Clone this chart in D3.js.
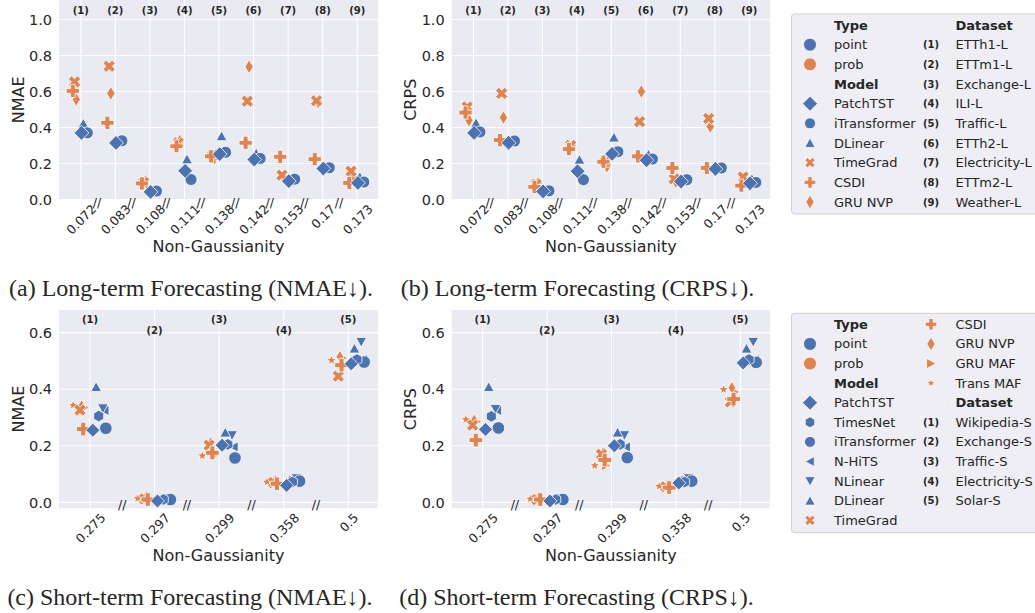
<!DOCTYPE html>
<html><head><meta charset="utf-8">
<script src="https://cdn.jsdelivr.net/npm/d3@7"></script>
<style>
body{margin:0;background:#fff}
svg{display:block}
text{font-family:"DejaVu Sans",sans-serif;fill:#262626}
</style>
</head><body>
<svg id="c" width="1035" height="613"></svg>
<script>
// ---------------- DATA ----------------
const catsLong = ["0.072","0.083","0.108","0.111","0.138","0.142","0.153","0.17","0.173"];
const idsLong = ["(1)","(2)","(3)","(4)","(5)","(6)","(7)","(8)","(9)"];
const namesLong = ["ETTh1-L","ETTm1-L","Exchange-L","ILI-L","Traffic-L","ETTh2-L","Electricity-L","ETTm2-L","Weather-L"];
const catsShort = ["0.275","0.297","0.299","0.358","0.5"];
const idsShort = ["(1)","(2)","(3)","(4)","(5)"];
const namesShort = ["Wikipedia-S","Exchange-S","Traffic-S","Electricity-S","Solar-S"];
const ticksLong = [0.0,0.2,0.4,0.6,0.8,1.0];
const ticksShort = [0.0,0.2,0.4,0.6];

const modelsLong = ["PatchTST","iTransformer","DLinear","TimeGrad","CSDI","GRU NVP"];
const modelsShort = ["PatchTST","TimesNet","iTransformer","N-HiTS","NLinear","DLinear","TimeGrad","CSDI","GRU NVP","GRU MAF","Trans MAF"];

const nmaeLong = {
  "PatchTST":     [0.370,0.314,0.042,0.159,0.252,0.222,0.102,0.172,0.092],
  "iTransformer": [0.370,0.326,0.047,0.111,0.262,0.228,0.113,0.176,0.097],
  "DLinear":      [0.422,0.330,0.050,0.224,0.352,0.257,0.115,0.180,0.125],
  "TimeGrad":     [0.653,0.740,0.095,0.315,0.246,0.546,0.135,0.548,0.157],
  "CSDI":         [0.603,0.426,0.089,0.296,0.240,0.315,0.237,0.224,0.092],
  "GRU NVP":      [0.556,0.589,0.100,0.325,0.230,0.737,0.125,0.540,0.130]
};
const crpsLong = {
  "PatchTST":     [0.370,0.315,0.045,0.157,0.253,0.218,0.100,0.170,0.090],
  "iTransformer": [0.375,0.325,0.048,0.110,0.265,0.225,0.110,0.175,0.095],
  "DLinear":      [0.425,0.330,0.052,0.222,0.345,0.250,0.115,0.178,0.115],
  "TimeGrad":     [0.514,0.589,0.085,0.300,0.210,0.432,0.115,0.450,0.125],
  "CSDI":         [0.483,0.330,0.070,0.280,0.210,0.240,0.175,0.175,0.077],
  "GRU NVP":      [0.440,0.455,0.090,0.295,0.185,0.600,0.100,0.405,0.110]
};
const nmaeShort = {
  "PatchTST":     [0.255,0.005,0.202,0.060,0.490],
  "TimesNet":     [0.305,0.010,0.205,0.072,0.505],
  "iTransformer": [0.262,0.010,0.157,0.075,0.496],
  "N-HiTS":       [0.325,0.010,0.196,0.075,0.505],
  "NLinear":      [0.332,0.015,0.237,0.085,0.567],
  "DLinear":      [0.408,0.012,0.247,0.080,0.544],
  "TimeGrad":     [0.326,0.012,0.202,0.070,0.446],
  "CSDI":         [0.259,0.010,0.175,0.066,0.485],
  "GRU NVP":      [0.340,0.020,0.210,0.078,0.515],
  "GRU MAF":      [0.335,0.012,0.165,0.068,0.510],
  "Trans MAF":    [0.343,0.014,0.165,0.072,0.502]
};
const crpsShort = {
  "PatchTST":     [0.258,0.005,0.200,0.068,0.493],
  "TimesNet":     [0.304,0.010,0.205,0.072,0.505],
  "iTransformer": [0.263,0.010,0.158,0.075,0.495],
  "N-HiTS":       [0.325,0.010,0.196,0.075,0.505],
  "NLinear":      [0.330,0.015,0.237,0.085,0.567],
  "DLinear":      [0.408,0.012,0.247,0.080,0.544],
  "TimeGrad":     [0.273,0.010,0.170,0.055,0.355],
  "CSDI":         [0.220,0.010,0.150,0.052,0.365],
  "GRU NVP":      [0.290,0.018,0.175,0.060,0.405],
  "GRU MAF":      [0.285,0.010,0.130,0.050,0.390],
  "Trans MAF":    [0.293,0.012,0.130,0.057,0.399]
};

// ---------------- STYLE ----------------
const BLUE = "#4c72b0", ORANGE = "#dd8452";
const styleLong = {
  "PatchTST":     {c:BLUE,   m:"D", s:7.4, off:0.02},
  "iTransformer": {c:BLUE,   m:"o", s:6.0, off:0.19},
  "DLinear":      {c:BLUE,   m:"^", s:5.4, off:0.075},
  "TimeGrad":     {c:ORANGE, m:"X", s:6.2, off:-0.18},
  "CSDI":         {c:ORANGE, m:"P", s:6.6, off:-0.23},
  "GRU NVP":      {c:ORANGE, m:"d", s:7.0, off:-0.13}
};
const orderLong = ["GRU NVP","TimeGrad","CSDI","DLinear","iTransformer","PatchTST"];
const styleShort = {
  "PatchTST":     {c:BLUE,   m:"D", s:7.0, off:0.045},
  "TimesNet":     {c:BLUE,   m:"h", s:5.8, off:0.135},
  "iTransformer": {c:BLUE,   m:"o", s:6.3, off:0.245},
  "N-HiTS":       {c:BLUE,   m:"<", s:5.2, off:0.225},
  "NLinear":      {c:BLUE,   m:"v", s:5.4, off:0.2},
  "DLinear":      {c:BLUE,   m:"^", s:5.4, off:0.095},
  "TimeGrad":     {c:ORANGE, m:"X", s:6.2, off:-0.155},
  "CSDI":         {c:ORANGE, m:"P", s:6.8, off:-0.105},
  "GRU NVP":      {c:ORANGE, m:"d", s:6.4, off:-0.13},
  "GRU MAF":      {c:ORANGE, m:">", s:5.2, off:-0.085},
  "Trans MAF":    {c:ORANGE, m:"*", s:5.4, off:-0.26}
};
const orderShort = ["Trans MAF","GRU MAF","GRU NVP","TimeGrad","CSDI","N-HiTS","NLinear","DLinear","iTransformer","TimesNet","PatchTST"];

function poly(p){return "M"+p.map(q=>q[0].toFixed(2)+","+q[1].toFixed(2)).join("L")+"Z";}
function shape(m,s){
  switch(m){
    case "o": return `M${s},0A${s},${s} 0 1,1 ${-s},0A${s},${s} 0 1,1 ${s},0Z`;
    case "D": return poly([[0,-s],[s,0],[0,s],[-s,0]]);
    case "d": return poly([[0,-s],[s*0.6,0],[0,s],[-s*0.6,0]]);
    case "^": return poly([[0,-s*0.95],[s,s*0.85],[-s,s*0.85]]);
    case "v": return poly([[0,s*0.95],[s,-s*0.85],[-s,-s*0.85]]);
    case "<": return poly([[-s*0.95,0],[s*0.85,-s],[s*0.85,s]]);
    case ">": return poly([[s*0.95,0],[-s*0.85,-s],[-s*0.85,s]]);
    case "P": {const t=s*0.36; return poly([[-t,-s],[t,-s],[t,-t],[s,-t],[s,t],[t,t],[t,s],[-t,s],[-t,t],[-s,t],[-s,-t],[-t,-t]]);}
    case "X": {const t=s*0.4, a=s*1.15; const base=[[-t,-a],[t,-a],[t,-t],[a,-t],[a,t],[t,t],[t,a],[-t,a],[-t,t],[-a,t],[-a,-t],[-t,-t]];
      const c=Math.SQRT1_2; return poly(base.map(([x,y])=>[(x-y)*c*0.9,(x+y)*c*0.9]));}
    case "h": return poly(d3.range(6).map(k=>{const a=-Math.PI/2+k*Math.PI/3;return [s*Math.cos(a),s*Math.sin(a)];}));
    case "*": return poly(d3.range(10).map(k=>{const a=-Math.PI/2+k*Math.PI/5, r=k%2?s*0.42:s;return [r*Math.cos(a),r*Math.sin(a)];}));
  }
}

const svg = d3.select("#c");

function panel(cfg){
  const {x0,x1,y0,y1,cats,ids,xDom,yDom,yTicks,ylabel,data,style,order,idY,slashOff,slashY,xlabelY} = cfg;
  const x = d3.scaleLinear().domain(xDom).range([x0,x1]);
  const y = d3.scaleLinear().domain(yDom).range([y1,y0]);
  const g = svg.append("g");
  g.append("rect").attr("x",x0).attr("y",y0).attr("width",x1-x0).attr("height",y1-y0).attr("fill","#eaeaf2");
  const idx = d3.range(cats.length);
  g.selectAll(".vg").data(idx).join("line").attr("x1",d=>x(d)).attr("x2",d=>x(d)).attr("y1",y0).attr("y2",y1)
    .attr("stroke","#fff").attr("stroke-width",1.1);
  g.selectAll(".hg").data(yTicks).join("line").attr("x1",x0).attr("x2",x1).attr("y1",d=>y(d)).attr("y2",d=>y(d))
    .attr("stroke","#fff").attr("stroke-width",1.1);
  const ya = g.append("g").attr("transform",`translate(${x0},0)`)
    .call(d3.axisLeft(y).tickValues(yTicks).tickFormat(d3.format(".1f")).tickSize(0).tickPadding(7));
  ya.select(".domain").remove();
  ya.selectAll("text").attr("font-size",14.5).attr("font-family","DejaVu Sans").attr("fill","#262626");
  const xa = g.append("g").attr("transform",`translate(0,${y1})`)
    .call(d3.axisBottom(x).tickValues(idx).tickFormat(i=>cats[i]).tickSize(0));
  xa.select(".domain").remove();
  const xfs = 12.5;
  xa.selectAll("text").attr("font-size",xfs).attr("font-family","DejaVu Sans").attr("fill","#262626")
    .attr("text-anchor","middle").attr("dominant-baseline","central").attr("dy",null).attr("y",0)
    .each(function(){
      const w=this.getComputedTextLength(), h=xfs*0.73, b=(w+h)/Math.SQRT2;
      d3.select(this).attr("transform",`translate(0,${4+b/2}) rotate(-45)`);
    });
  g.append("text").attr("x",(x0+x1)/2).attr("y",xlabelY).attr("text-anchor","middle").attr("dominant-baseline","central")
    .attr("font-size",16).text("Non-Gaussianity");
  g.append("text").attr("transform",`translate(${x0-41},${(y0+y1)/2}) rotate(-90)`).attr("text-anchor","middle")
    .attr("dominant-baseline","central").attr("font-size",16).text(ylabel);
  g.selectAll(".id").data(idx).join("text").attr("x",d=>x(d)).attr("y",d=>idY(d)).attr("text-anchor","middle")
    .attr("dominant-baseline","central").attr("font-size",10).attr("font-weight","bold").attr("fill","#111").text(d=>ids[d]);
  g.selectAll(".sl").data(idx.slice(0,-1)).join("text").attr("x",d=>x(d+slashOff)).attr("y",slashY)
    .attr("text-anchor","middle").attr("dominant-baseline","central").attr("font-size",12.5).text("//");
  order.forEach(mod=>{
    const st=style[mod];
    g.selectAll(null).data(data[mod]).join("path")
      .attr("d",shape(st.m,st.s))
      .attr("transform",(v,i)=>`translate(${x(i+st.off)},${y(v)})`)
      .attr("fill",st.c).attr("stroke","#fff").attr("stroke-width",0.8);
  });
}

const longCommon = {cats:catsLong, ids:idsLong, xDom:[-0.63,8.6], yDom:[0,1.108], y0:0, y1:199.5,
  yTicks:ticksLong, style:styleLong, order:orderLong, idY:()=>10.7, slashOff:0.47, slashY:202, xlabelY:246};
panel(Object.assign({}, longCommon, {x0:59, x1:378, ylabel:"NMAE", data:nmaeLong}));
panel(Object.assign({}, longCommon, {x0:451.7, x1:770, ylabel:"CRPS", data:crpsLong}));
const shortCommon = {cats:catsShort, ids:idsShort, xDom:[-0.48,4.46], yDom:[-0.021,0.68], y0:310, y1:508.3,
  yTicks:ticksShort, style:styleShort, order:orderShort, idY:i=>i%2?330.7:319, slashOff:0.5, slashY:504, xlabelY:555};
panel(Object.assign({}, shortCommon, {x0:59, x1:378, ylabel:"NMAE", data:nmaeShort}));
panel(Object.assign({}, shortCommon, {x0:451.7, x1:770, ylabel:"CRPS", data:crpsShort}));

const caps = [
  {x:191, y:288, t:"(a) Long-term Forecasting (NMAE\u2193)."},
  {x:577.5, y:288, t:"(b) Long-term Forecasting (CRPS\u2193)."},
  {x:190, y:597, t:"(c) Short-term Forecasting (NMAE\u2193)."},
  {x:576.5, y:597, t:"(d) Short-term Forecasting (CRPS\u2193)."}
];
svg.selectAll(".cap").data(caps).join("text").attr("x",d=>d.x).attr("y",d=>d.y).attr("text-anchor","middle")
  .attr("dominant-baseline","central").attr("font-size",24)
  .style("font-family","'Liberation Serif',serif").attr("fill","#000").text(d=>d.t);

function legend(cfg){
  const {y0,h,rows0,step,col1,col2} = cfg;
  const g = svg.append("g");
  g.append("rect").attr("x",791.5).attr("y",y0).attr("width",270).attr("height",h).attr("rx",3)
    .attr("fill","#eeeef4").attr("stroke","#d0d0d0").attr("stroke-width",1);
  function item(entry, row, mx, tx){
    const yy = rows0 + row*step;
    if(entry.header){ g.append("text").attr("x",tx).attr("y",yy).attr("dominant-baseline","central")
      .attr("font-size",13).attr("font-weight","bold").text(entry.header); return; }
    if(entry.m) g.append("path").attr("d",shape(entry.m,entry.s)).attr("transform",`translate(${mx},${yy})`)
      .attr("fill",entry.c).attr("stroke","#fff").attr("stroke-width",0.8);
    if(entry.id) g.append("text").attr("x",mx-8).attr("y",yy).attr("dominant-baseline","central")
      .attr("font-size",10).attr("font-weight","bold").attr("fill","#111").text(entry.id);
    g.append("text").attr("x",tx).attr("y",yy).attr("dominant-baseline","central").attr("font-size",13).text(entry.t);
  }
  col1.forEach((e,i)=>item(e,i,810,834));
  col2.forEach((e,i)=>item(e,i,cfg.mx2,955.5));
}
const typeEntries = [{header:"Type"},{m:"o",s:6.5,c:BLUE,t:"point"},{m:"o",s:6.5,c:ORANGE,t:"prob"},{header:"Model"}];
const legStyleL = {"PatchTST":7.5,"iTransformer":5.5,"DLinear":5.2,"TimeGrad":5.2,"CSDI":5.8,"GRU NVP":7};
legend({y0:14, h:200, rows0:25, step:19.67, mx2:931,
  col1: typeEntries.concat(modelsLong.map(mn=>({m:styleLong[mn].m, s:legStyleL[mn], c:styleLong[mn].c, t:mn}))),
  col2: [{header:"Dataset"}].concat(namesLong.map((n,i)=>({id:idsLong[i], t:n})))
});
const legStyleS = {"PatchTST":7.5,"TimesNet":5.5,"iTransformer":5.5,"N-HiTS":5,"NLinear":5.2,"DLinear":5.2,"TimeGrad":5.2,"CSDI":5.8,"GRU NVP":7,"GRU MAF":5.2,"Trans MAF":4.6};
const sEntries = modelsShort.map(mn=>({m:styleShort[mn].m, s:legStyleS[mn], c:styleShort[mn].c, t:mn}));
legend({y0:313.3, h:219.4, rows0:324.3, step:19.6, mx2:931,
  col1: typeEntries.concat(sEntries.slice(0,7)),
  col2: sEntries.slice(7).concat([{header:"Dataset"}]).concat(namesShort.map((n,i)=>({id:idsShort[i], t:n})))
});
</script>
</body></html>
